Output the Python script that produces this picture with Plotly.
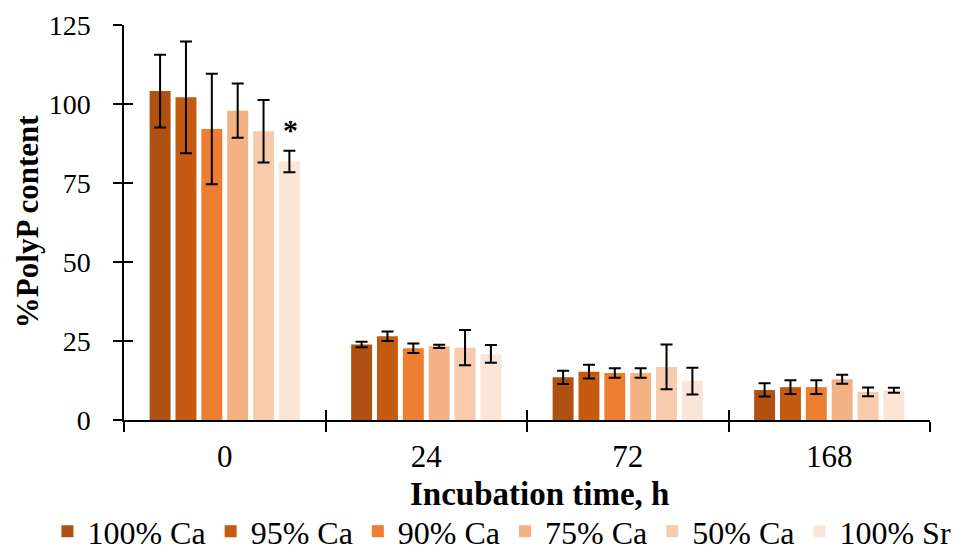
import plotly.graph_objects as go

categories = ["0", "24", "72", "168"]
series_names = ["100% Ca", "95% Ca", "90% Ca", "75% Ca", "50% Ca", "100% Sr"]
colors = ["#AF5211", "#C55A11", "#ED7D31", "#F4B183", "#F8CBAD", "#FBE5D6"]

values = [
    [104.1, 23.9, 13.5, 9.5],   # 100% Ca
    [102.1, 26.5, 15.3, 10.4],  # 95% Ca
    [92.1, 22.7, 14.9, 10.4],   # 90% Ca
    [97.9, 23.3, 14.9, 12.9],   # 75% Ca
    [91.4, 22.9, 16.8, 8.9],    # 50% Ca
    [81.8, 20.9, 12.3, 9.4],    # 100% Sr
]
errors = [
    [11.5, 0.9, 2.1, 2.1],
    [17.7, 1.5, 2.2, 2.2],
    [17.5, 1.5, 1.5, 2.2],
    [8.6, 0.5, 1.5, 1.4],
    [9.9, 5.6, 7.1, 1.4],
    [3.4, 2.8, 4.2, 0.8],
]
y_ticks = [0, 25, 50, 75, 100, 125]

FONT = "Liberation Serif, Times New Roman, serif"

fig = go.Figure()
for name, col, v, e in zip(series_names, colors, values, errors):
    fig.add_trace(go.Bar(
        x=categories, y=v, name=name,
        marker=dict(color=col, line=dict(width=0)),
        error_y=dict(type="data", array=e, visible=True, color="black",
                     thickness=2, width=6),
    ))

# invisible helper trace for the overlay axes (inner half of crossing ticks)
fig.add_trace(go.Scatter(x=[0], y=[0], xaxis="x2", yaxis="y2", mode="markers",
                         marker=dict(opacity=0), showlegend=False, hoverinfo="skip"))

fig.add_annotation(x="0", y=values[5][0] + errors[5][0], xref="x", yref="y",
                   text="<b>*</b>", showarrow=False, xshift=66, yshift=21,
                   font=dict(family=FONT, size=30, color="black"))

# axis titles
fig.add_annotation(x=0.515, y=-0.187, xref="paper", yref="paper",
                   text="<b>Incubation time, h</b>", showarrow=False,
                   xanchor="center", yanchor="middle",
                   font=dict(family=FONT, size=33, color="black"))
fig.add_annotation(x=-0.1203, y=0.501, xref="paper", yref="paper",
                   text="<b>%PolyP content</b>", showarrow=False, textangle=-90,
                   xanchor="center", yanchor="middle",
                   font=dict(family=FONT, size=31, color="black"))

fig.update_layout(
    width=962, height=552,
    margin=dict(l=124, r=32, t=25, b=132, autoexpand=False),
    paper_bgcolor="white", plot_bgcolor="white",
    barmode="group", bargap=0.23, bargroupgap=0.19,
    font=dict(family=FONT, color="black"),
    xaxis=dict(
        type="category", categoryorder="array", categoryarray=categories,
        range=[-0.5, 3.5], tickson="boundaries",
        ticks="outside", ticklen=10, tickwidth=1.5, tickcolor="black",
        showline=True, linecolor="black", linewidth=1.5, showgrid=False,
        tickfont=dict(family=FONT, size=31), ticklabelstandoff=8,
    ),
    xaxis2=dict(
        overlaying="x", range=[-0.5, 3.5], tickvals=[0.5, 1.5, 2.5, 3.5],
        ticks="inside", ticklen=10, tickwidth=1.5, tickcolor="black",
        showticklabels=False, showline=False, showgrid=False, zeroline=False,
    ),
    yaxis=dict(
        range=[0, 125], tickvals=y_ticks,
        ticks="outside", ticklen=9, tickwidth=1.5, tickcolor="black",
        showline=True, linecolor="black", linewidth=1.5, showgrid=False,
        zeroline=False, ticklabelstandoff=17,
        tickfont=dict(family=FONT, size=28),
    ),
    yaxis2=dict(
        overlaying="y", range=[0, 125], tickvals=y_ticks,
        ticks="inside", ticklen=9, tickwidth=1.5, tickcolor="black",
        showticklabels=False, showline=False, showgrid=False, zeroline=False,
    ),
    legend=dict(
        orientation="h",
        x=-0.095, xanchor="left", y=-0.282, yanchor="middle",
        font=dict(family=FONT, size=32), itemwidth=30,
        bgcolor="rgba(0,0,0,0)", traceorder="normal",
    ),
    showlegend=True,
)

fig.write_html("out.html", config={"displayModeBar": False},
               post_script="document.body.style.margin='0';")
